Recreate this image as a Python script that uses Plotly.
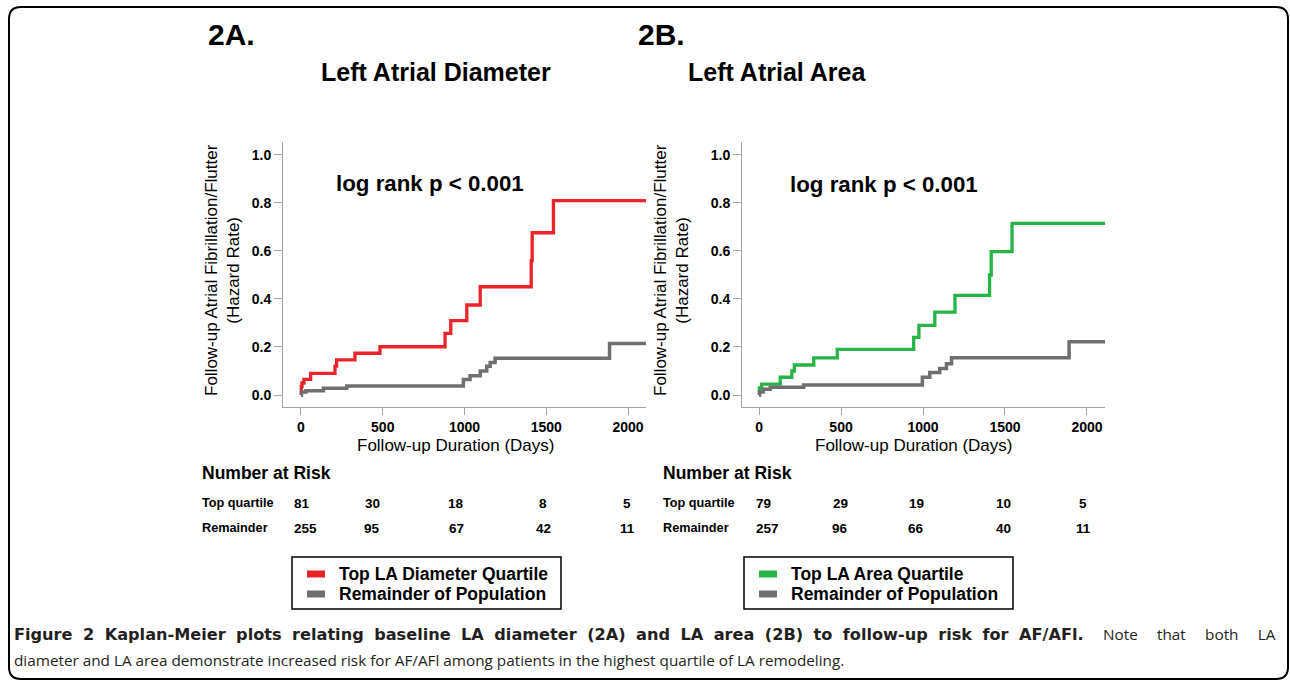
import plotly.graph_objects as go

# ---------------- data ----------------
# Panel 2A: Left Atrial Diameter (cumulative hazard, step curves)
days_a_top = [0, 2, 6, 18, 59, 208, 218, 330, 483, 881, 916, 1014, 1096, 1408, 1414, 1544, 2110]
risk_a_top = [0, 0.035, 0.05, 0.065, 0.09, 0.12, 0.146, 0.174, 0.201, 0.257, 0.31, 0.375, 0.451, 0.56, 0.676, 0.81, 0.81]
days_a_rem = [0, 3, 30, 137, 280, 993, 1034, 1096, 1136, 1157, 1187, 1887, 2110]
risk_a_rem = [0, 0.012, 0.018, 0.028, 0.037, 0.065, 0.08, 0.1, 0.12, 0.135, 0.153, 0.215, 0.215]

# Panel 2B: Left Atrial Area
days_b_top = [0, 2, 16, 129, 200, 215, 334, 477, 943, 975, 1072, 1195, 1406, 1416, 1543, 2110]
risk_b_top = [0, 0.03, 0.045, 0.074, 0.1, 0.125, 0.155, 0.19, 0.24, 0.29, 0.345, 0.415, 0.5, 0.597, 0.715, 0.715]
days_b_rem = [0, 3, 25, 68, 272, 996, 1041, 1102, 1143, 1174, 1891, 2110]
risk_b_rem = [0, 0.012, 0.024, 0.032, 0.042, 0.074, 0.094, 0.11, 0.13, 0.155, 0.222, 0.222]

# Number at risk
risk_times = [0, 500, 1000, 1500, 2000]
nar_a_top = [81, 30, 18, 8, 5]
nar_a_rem = [255, 95, 67, 42, 11]
nar_b_top = [79, 29, 19, 10, 5]
nar_b_rem = [257, 96, 66, 40, 11]

x_ticks = [0, 500, 1000, 1500, 2000]
y_ticks = [0.0, 0.2, 0.4, 0.6, 0.8, 1.0]

legend_a = ["Top LA Diameter Quartile", "Remainder of Population"]
legend_b = ["Top LA Area Quartile", "Remainder of Population"]

caption_bold = "Figure 2 Kaplan-Meier plots relating baseline LA diameter (2A) and LA area (2B) to follow-up risk for AF/AFl."
caption_tail = "Note that both LA"
caption_line2 = "diameter and LA area demonstrate increased risk for AF/AFl among patients in the highest quartile of LA remodeling."

# ---------------- styling ----------------
W, H = 1290, 683
RED = "#ec2328"
GREEN = "#25b445"
GRAY = "#6f6f6f"
AXC = "#a3a3a3"
FONT = "Arial, Liberation Sans, sans-serif"


def px(x):
    return x / W


def py(y):
    return 1 - y / H


fig = go.Figure()

fig.add_trace(go.Scatter(x=days_a_top, y=risk_a_top, mode="lines", line=dict(color=RED, width=3.3, shape="hv"),
                         xaxis="x", yaxis="y", name=legend_a[0], showlegend=False))
fig.add_trace(go.Scatter(x=days_a_rem, y=risk_a_rem, mode="lines", line=dict(color=GRAY, width=3.5, shape="hv"),
                         xaxis="x", yaxis="y", name=legend_a[1], showlegend=False))
fig.add_trace(go.Scatter(x=days_b_top, y=risk_b_top, mode="lines", line=dict(color=GREEN, width=3.3, shape="hv"),
                         xaxis="x2", yaxis="y2", name=legend_b[0], showlegend=False))
fig.add_trace(go.Scatter(x=days_b_rem, y=risk_b_rem, mode="lines", line=dict(color=GRAY, width=3.5, shape="hv"),
                         xaxis="x2", yaxis="y2", name=legend_b[1], showlegend=False))

xcommon = dict(range=[-110, 2110], tickvals=x_ticks, ticks="outside", ticklen=7, tickcolor=AXC, tickwidth=1,
               showline=True, linecolor=AXC, linewidth=1, showgrid=False, zeroline=False,
               tickfont=dict(family=FONT, size=14, color="black", weight="bold"))
ycommon = dict(range=[-0.05, 1.054], tickvals=y_ticks, tickformat=".1f", ticks="outside", ticklen=8,
               tickcolor=AXC, tickwidth=1, showline=True, linecolor=AXC, linewidth=1, showgrid=False,
               zeroline=False, tickfont=dict(family=FONT, size=14, color="black", weight="bold"))

fig.update_layout(
    width=W, height=H, margin=dict(l=0, r=0, t=0, b=0),
    paper_bgcolor="white", plot_bgcolor="white", showlegend=False,
    xaxis=dict(domain=[px(283), px(646)], anchor="y", **xcommon),
    yaxis=dict(domain=[py(407), py(142)], anchor="x", **ycommon),
    xaxis2=dict(domain=[px(742), px(1105)], anchor="y2", **{**xcommon, "range": [-104, 2110]}),
    yaxis2=dict(domain=[py(407), py(142)], anchor="x2", **ycommon),
)

ann = []


def text(x, y, s, size, bold=False, xanchor="left", angle=0, color="black", family=FONT):
    ann.append(dict(x=px(x), y=py(y), xref="paper", yref="paper", text=s, showarrow=False,
                    xanchor=xanchor, yanchor="middle", textangle=angle,
                    font=dict(family=family, size=size, color=color, weight="bold" if bold else "normal")))


# panel headers
text(206, 35, "2A.", 30, True)
text(436, 72, "Left Atrial Diameter", 25, True, "center")
text(636, 35, "2B.", 30, True)
text(777, 72, "Left Atrial Area", 25, True, "center")

# log rank
text(334, 183, "log rank p < 0.001", 22.3, True)
text(788, 185, "log rank p < 0.001", 22.3, True)

# y titles
ytitle = "Follow-up Atrial Fibrillation/Flutter<br>(Hazard Rate)"
text(223, 270, ytitle, 17, False, "center", -90)
text(672, 270, ytitle, 17, False, "center", -90)

# x titles
text(455, 445, "Follow-up Duration (Days)", 17, False, "center")
text(913, 445, "Follow-up Duration (Days)", 17, False, "center")

# Number at risk tables
cols_a = [292, 372, 456, 543, 627]
cols_b = [754, 840, 916, 1003, 1083]
for x0, cols, top, rem in [(200, cols_a, nar_a_top, nar_a_rem), (661, cols_b, nar_b_top, nar_b_rem)]:
    text(x0, 473, "Number at Risk", 17.5, True)
    text(x0, 503, "Top quartile", 12.7, True)
    text(x0, 528, "Remainder", 12.7, True)
    for i, (cx, t, r) in enumerate(zip(cols, top, rem)):
        anchor = "left" if i == 0 else "center"
        text(cx, 503, str(t), 13.5, True, anchor)
        text(cx, 528, str(r), 13.5, True, anchor)

# legends
shapes = []
for (x0, x1, labels, col) in [(292, 561, legend_a, RED), (744, 1013, legend_b, GREEN)]:
    shapes.append(dict(type="rect", xref="paper", yref="paper", x0=px(x0), x1=px(x1), y0=py(609), y1=py(557),
                       line=dict(color="black", width=1.5), fillcolor="white"))
    for j, (lab, c) in enumerate(zip(labels, [col, GRAY])):
        yc = 574 + 20 * j
        shapes.append(dict(type="rect", xref="paper", yref="paper", x0=px(x0 + 15), x1=px(x0 + 33),
                           y0=py(yc + 3.5), y1=py(yc - 3.5), line=dict(width=0), fillcolor=c))
        text(x0 + 45, yc, lab, 17.5, True)

# outer rounded border
r = 12
L, T, R, B = 9, 7, 1288, 679
path = (f"M {px(L + r)} {py(T)} L {px(R - r)} {py(T)} Q {px(R)} {py(T)} {px(R)} {py(T + r)} "
        f"L {px(R)} {py(B - r)} Q {px(R)} {py(B)} {px(R - r)} {py(B)} "
        f"L {px(L + r)} {py(B)} Q {px(L)} {py(B)} {px(L)} {py(B - r)} "
        f"L {px(L)} {py(T + r)} Q {px(L)} {py(T)} {px(L + r)} {py(T)} Z")
shapes.append(dict(type="path", xref="paper", yref="paper", path=path, line=dict(color="black", width=2)))

# caption (first line justified by widening word gaps)
CAPB = "DejaVu Sans, sans-serif"
CAPF = "Open Sans, sans-serif"
text(12, 634, caption_bold.replace(" ", " \u2009\u200a"), 16.15, True, "left", color="#231f20", family=CAPB)
text(1278, 634, caption_tail.replace(" ", " \u2002\u2002"), 15.3, False, "right", color="#231f20", family=CAPF)
text(12, 660, caption_line2, 15.3, False, "left", color="#231f20", family=CAPF)

fig.update_layout(annotations=ann, shapes=shapes)
fig.write_html("out.html", config={"displayModeBar": False},
               post_script="document.body.style.margin='0px';")
